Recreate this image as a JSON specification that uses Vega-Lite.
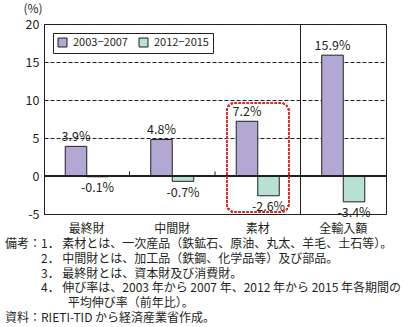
{
  "$schema": "https://vega.github.io/schema/vega-lite/v6.json",
  "width": 342,
  "height": 190,
  "autosize": {"type": "none"},
  "padding": {"left": 44, "top": 24, "right": 22, "bottom": 113},
  "background": "white",
  "config": {
    "font": "Noto Sans CJK JP",
    "view": {"stroke": "#231f20", "strokeWidth": 1},
    "text": {"color": "#231f20"}
  },
  "title": {
    "text": [
      "備考：1． 素材とは、一次産品（鉄鉱石、原油、丸太、羊毛、土石等）。",
      "\u200b　　　2． 中間財とは、加工品（鉄鋼、化学品等）及び部品。",
      "\u200b　　　3． 最終財とは、資本財及び消費財。",
      "\u200b　　　4． 伸び率は、2003 年から 2007 年、2012 年から 2015 年各期間の",
      "\u200b　　　　　 平均伸び率（前年比）。",
      "資料：RIETI-TID から経済産業省作成。"
    ],
    "orient": "bottom",
    "anchor": "start",
    "frame": "group",
    "dx": -39,
    "offset": 5,
    "font": "Noto Sans CJK JP",
    "fontSize": 12,
    "fontWeight": "normal",
    "lineHeight": 14.8,
    "color": "#231f20"
  },
  "data": {
    "values": [
      {"category": "最終財", "period": "2003−2007", "value": 3.9},
      {"category": "最終財", "period": "2012−2015", "value": -0.1},
      {"category": "中間財", "period": "2003−2007", "value": 4.8},
      {"category": "中間財", "period": "2012−2015", "value": -0.7},
      {"category": "素材", "period": "2003−2007", "value": 7.2},
      {"category": "素材", "period": "2012−2015", "value": -2.6},
      {"category": "全輸入額", "period": "2003−2007", "value": 15.9},
      {"category": "全輸入額", "period": "2012−2015", "value": -3.4}
    ]
  },
  "layer": [
    {
      "mark": {"type": "bar", "stroke": "#231f20", "strokeWidth": 1},
      "encoding": {
        "x": {
          "field": "category", "type": "nominal", "title": null,
          "scale": {"domain": ["最終財", "中間財", "素材", "全輸入額"], "paddingInner": 0, "paddingOuter": 0},
          "axis": {"title": null, "domain": false, "ticks": false, "labelAngle": 0, "labelFontSize": 12, "labelPadding": 9, "labelColor": "#231f20"}
        },
        "xOffset": {
          "field": "period", "type": "nominal",
          "scale": {"domain": ["2003−2007", "2012−2015"], "paddingInner": 0, "paddingOuter": 0.988}
        },
        "y": {
          "field": "value", "type": "quantitative", "title": "(%)",
          "scale": {"domain": [-5, 20], "nice": false, "zero": false},
          "axis": {
            "values": [-5, 0, 5, 10, 15, 20],
            "tickCount": 10,
            "labelExpr": "replace(datum.label, '−', '-')",
            "labelOverlap": false,
            "domain": false, "ticks": false,
            "grid": true, "gridColor": "#231f20", "gridDash": [4, 2], "gridWidth": 1, "gridOpacity": 1,
            "labelFontSize": 12.5, "labelPadding": 5, "labelColor": "#231f20",
            "title": "(%)", "titleAngle": 0, "titleAlign": "left", "titleBaseline": "middle",
            "titleX": -21, "titleY": -15.5, "titleFontSize": 12, "titleFontWeight": "normal", "titleColor": "#231f20"
          }
        },
        "color": {
          "field": "period", "type": "nominal",
          "scale": {"domain": ["2003−2007", "2012−2015"], "range": ["#b2a8d4", "#b8e0d4"]},
          "legend": {
            "title": null, "orient": "none", "legendX": 9, "legendY": 9,
            "direction": "horizontal", "strokeColor": "#231f20", "fillColor": "white",
            "padding": 4, "symbolType": "square", "symbolSize": 81,
            "symbolStrokeColor": "#231f20", "symbolStrokeWidth": 1, "symbolOpacity": 1,
            "labelFontSize": 11, "labelOffset": 5, "columnPadding": 9, "labelColor": "#231f20"
          }
        }
      }
    },
    {
      "mark": {"type": "rule", "color": "#231f20", "strokeWidth": 1},
      "encoding": {"y": {"datum": 0, "type": "quantitative", "title": "(%)"}}
    },
    {
      "mark": {"type": "rule", "color": "#231f20", "strokeWidth": 1},
      "encoding": {"x": {"datum": "全輸入額", "type": "nominal", "bandPosition": 0, "title": null}}
    },
    {
      "data": {"values": [{"category": "中間財"}, {"category": "素材"}]},
      "mark": {"type": "rule", "color": "#231f20", "strokeWidth": 1},
      "encoding": {
        "x": {"field": "category", "type": "nominal", "bandPosition": 0, "title": null},
        "y": {"datum": 0, "type": "quantitative", "title": "(%)"},
        "y2": {"datum": 0.6}
      }
    },
    {
      "transform": [
        {"filter": "datum.value > 0"},
        {"calculate": "toString(datum.value) + '%'", "as": "label"}
      ],
      "mark": {"type": "text", "baseline": "alphabetic", "dy": -5.5, "fontSize": 12.5, "color": "#231f20"},
      "encoding": {
        "x": {"field": "category", "type": "nominal", "title": null},
        "xOffset": {"field": "period", "type": "nominal"},
        "y": {"field": "value", "type": "quantitative", "title": "(%)"},
        "text": {"field": "label"}
      }
    },
    {
      "transform": [
        {"filter": "datum.value < 0"},
        {"calculate": "toString(datum.value) + '%'", "as": "label"}
      ],
      "mark": {"type": "text", "baseline": "alphabetic", "dy": 15.5, "fontSize": 12.5, "color": "#231f20"},
      "encoding": {
        "x": {"field": "category", "type": "nominal", "title": null},
        "xOffset": {"field": "period", "type": "nominal"},
        "y": {"field": "value", "type": "quantitative", "title": "(%)"},
        "text": {"field": "label"}
      }
    },
    {
      "mark": {"type": "bar", "width": 62, "fill": "transparent", "stroke": "#e8262a", "strokeWidth": 1.5, "strokeDash": [2, 2], "cornerRadius": 8},
      "encoding": {
        "x": {"datum": "素材", "type": "nominal", "title": null},
        "y": {"datum": 9.6, "type": "quantitative", "title": "(%)"},
        "y2": {"datum": -4.74}
      }
    }
  ]
}
